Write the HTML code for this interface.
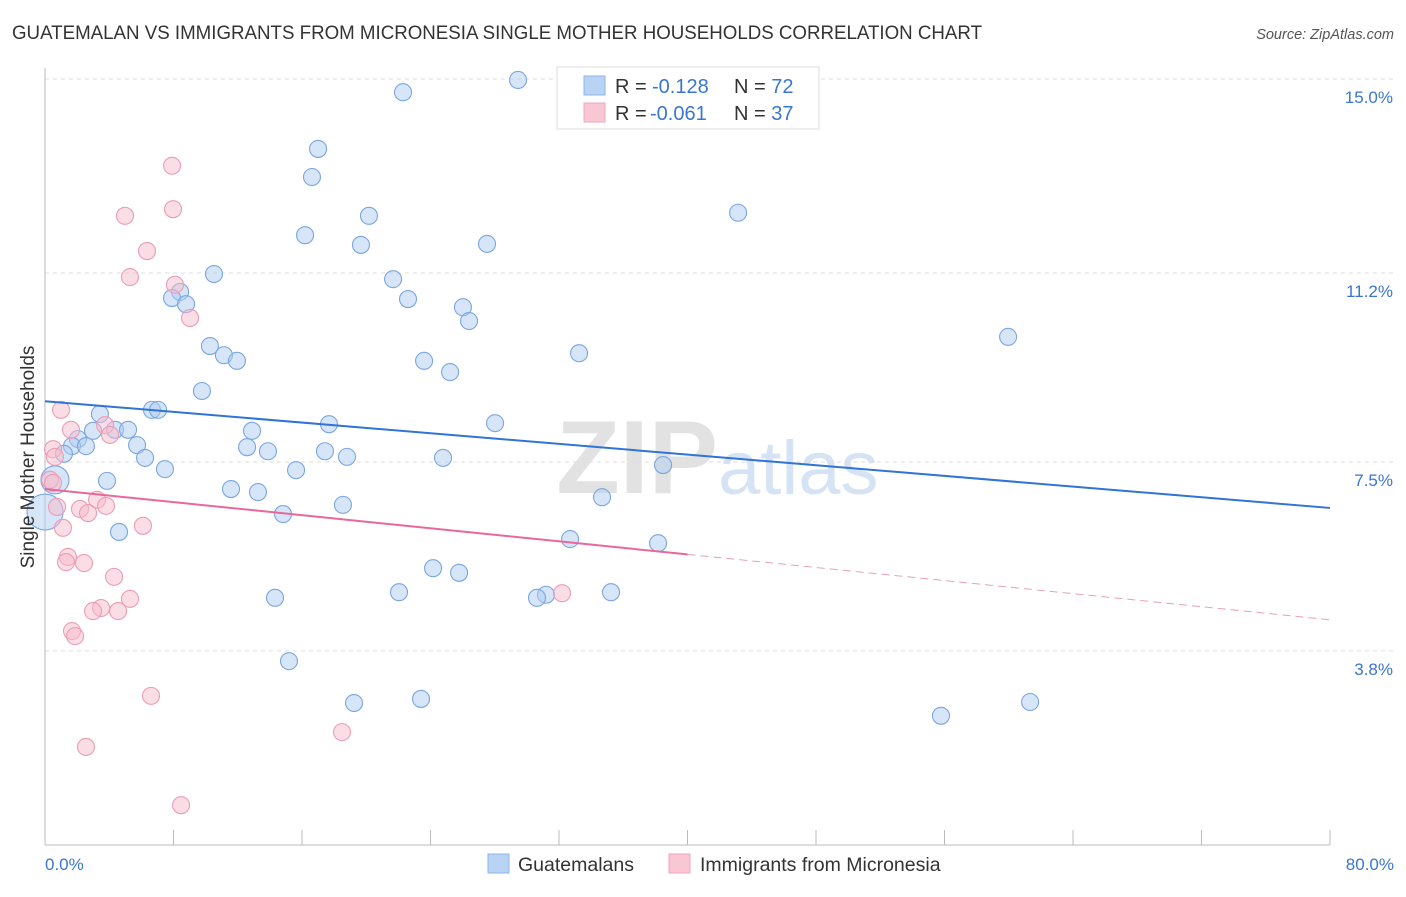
<!DOCTYPE html>
<html><head><meta charset="utf-8"><style>
body{margin:0;background:#fff;font-family:"Liberation Sans",sans-serif;}
svg text{font-family:"Liberation Sans",sans-serif;}
</style></head><body>
<svg id="c" width="1406" height="892" xmlns="http://www.w3.org/2000/svg">
<text x="12" y="39" font-size="19" fill="#333" textLength="970" lengthAdjust="spacingAndGlyphs">GUATEMALAN VS IMMIGRANTS FROM MICRONESIA SINGLE MOTHER HOUSEHOLDS CORRELATION CHART</text>
<text x="1394" y="39" font-size="14.5" fill="#555" font-style="italic" text-anchor="end">Source: ZipAtlas.com</text>
<text x="718" y="493" font-size="104" fill="#e2e2e2" text-anchor="end" font-family="Liberation Serif" font-weight="bold">ZIP</text>
<text x="718" y="494" font-size="76" fill="#d6e3f4">atlas</text>
<g id="grid"></g>
<g id="axes"></g>
<g id="pts"></g>
<g id="trend"></g>
<text transform="translate(34,457) rotate(-90)" font-size="19" fill="#333" text-anchor="middle">Single Mother Households</text>
<text x="45" y="870" font-size="17" fill="#3a76d0">0.0%</text>
<text x="1394" y="870" font-size="17" fill="#3a76d0" text-anchor="end">80.0%</text>
<g>
<rect x="557" y="67" width="262" height="62" fill="#fff" stroke="#ddd"/>
<rect x="584" y="76" width="21" height="19" fill="#b9d3f5" stroke="#8fb4e6"/>
<rect x="584" y="103" width="21" height="19" fill="#f9c6d4" stroke="#efa7bd"/>
<text x="615" y="93" font-size="20" fill="#333">R =<tspan x="652" fill="#3a76d0">-0.128</tspan><tspan x="734">N = </tspan><tspan fill="#3a76d0">72</tspan></text>
<text x="615" y="120" font-size="20" fill="#333">R =<tspan x="650" fill="#3a76d0">-0.061</tspan><tspan x="734">N = </tspan><tspan fill="#3a76d0">37</tspan></text>
</g>
<g>
<rect x="488" y="854" width="21" height="19" fill="#b9d3f5" stroke="#8fb4e6"/>
<text x="518" y="871" font-size="19.5" fill="#333">Guatemalans</text>
<rect x="669" y="854" width="21" height="19" fill="#f9c6d4" stroke="#efa7bd"/>
<text x="700" y="871" font-size="19.5" fill="#333">Immigrants from Micronesia</text>
</g>
</svg>
<script>
const yTicks=[3.8,7.5,11.2,15.0];
const yTickLabels=["3.8%","7.5%","11.2%","15.0%"];
const xTicks=[0,8,16,24,32,40,48,56,64,72,80];
const blueX=[29.45,22.29,17.0,16.62,43.15,20.17,16.19,19.67,27.52,10.52,21.67,8.41,7.91,8.78,22.6,26.02,26.4,59.96,10.27,11.14,11.95,33.25,23.6,25.22,9.77,6.66,7.04,3.42,28.02,17.68,2.99,4.36,5.17,12.89,2.05,1.68,2.55,5.73,12.58,13.88,17.43,1.18,6.23,18.8,24.78,7.47,15.63,38.48,3.86,11.58,13.26,34.68,18.55,14.82,4.61,32.69,38.17,24.16,25.78,22.04,35.24,14.32,31.19,30.63,15.19,19.24,23.41,55.78,61.33,0,0.62];
const blueY=[14.98,14.74,13.63,13.08,12.38,12.32,11.94,11.75,11.77,11.18,11.08,10.83,10.71,10.59,10.69,10.53,10.26,9.95,9.77,9.59,9.48,9.63,9.48,9.26,8.89,8.52,8.52,8.44,8.26,8.24,8.11,8.13,8.13,8.11,7.95,7.81,7.81,7.83,7.79,7.71,7.71,7.66,7.58,7.6,7.58,7.36,7.34,7.44,7.13,6.97,6.91,6.81,6.66,6.48,6.13,5.99,5.91,5.42,5.33,4.95,4.95,4.84,4.9,4.84,3.6,2.78,2.86,2.53,2.8,6.52,7.15];
const pinkX=[7.91,7.97,4.98,6.35,5.29,8.09,9.03,1.0,1.62,3.74,4.05,0.5,0.62,0.31,0.5,3.24,3.8,2.18,0.75,2.68,6.1,1.12,1.43,1.31,2.43,4.3,5.29,3.49,2.99,4.55,1.68,1.87,6.6,18.49,2.55,8.47,32.19];
const pinkY=[13.3,12.45,12.32,11.63,11.12,10.97,10.32,8.52,8.13,8.22,8.03,7.75,7.6,7.15,7.09,6.76,6.64,6.58,6.62,6.5,6.25,6.21,5.64,5.54,5.52,5.25,4.82,4.64,4.58,4.58,4.19,4.09,2.92,2.21,1.92,0.78,4.93];
const blueTrend=[8.69,6.6];
const pinkTrend=[6.97,4.41];
const pinkSolidEnd=40;
const X=v=>45+v/80*1285, Y=v=>845-v*51.07;
const NS="http://www.w3.org/2000/svg";
function mk(tag,parent,attrs){const e=document.createElementNS(NS,tag);for(const k in attrs)e.setAttribute(k,attrs[k]);document.getElementById(parent).appendChild(e);return e;}
yTicks.forEach((t,i)=>{
 const l=mk('line','grid',{x1:45,x2:1393,y1:Y(t),y2:Y(t),stroke:'#ddd','stroke-dasharray':'4,4'});
 
 
 const tx=mk('text','grid',{x:1393,y:Y(t)+24,'font-size':17,fill:'#3a76d0','text-anchor':'end'});
 tx.textContent=yTickLabels[i];
 
 
});
const ax=mk('line','axes',{x1:45,x2:1330,y1:845,y2:845,stroke:'#bbb'});


const ay=mk('line','axes',{x1:45,x2:45,y1:68,y2:845,stroke:'#bbb'});


xTicks.forEach(t=>{
 const l=mk('line','axes',{x1:X(t),x2:X(t),y1:830,y2:845,stroke:'#bbb'});
 
 
});
function dot(x,y,r,fill,stroke,name){
 const c=mk('circle','pts',{cx:X(x),cy:Y(y),r:r,fill:fill,'fill-opacity':0.5,stroke:stroke,'stroke-width':1.1});
 
 
}
blueX.forEach((x,i)=>{const r=i===blueX.length-2?18:(i===blueX.length-1?14:8.5);dot(x,blueY[i],r,'#aecbf2','#7aa6e0','guatemalan-point');});
pinkX.forEach((x,i)=>dot(x,pinkY[i],8.5,'#f7bccb','#eb9db5','micronesia-point'));
const bl=mk('line','trend',{x1:X(0),y1:Y(blueTrend[0]),x2:X(80),y2:Y(blueTrend[1]),stroke:'#2f74d6','stroke-width':2});


const pm=pinkTrend[0]+(pinkTrend[1]-pinkTrend[0])*pinkSolidEnd/80;
const pl=mk('line','trend',{x1:X(0),y1:Y(pinkTrend[0]),x2:X(pinkSolidEnd),y2:Y(pm),stroke:'#e8689a','stroke-width':2});


const pd=mk('line','trend',{x1:X(pinkSolidEnd),y1:Y(pm),x2:X(80),y2:Y(pinkTrend[1]),stroke:'#e8a0b8','stroke-width':1,'stroke-dasharray':'8,5'});


</script>
</body></html>
